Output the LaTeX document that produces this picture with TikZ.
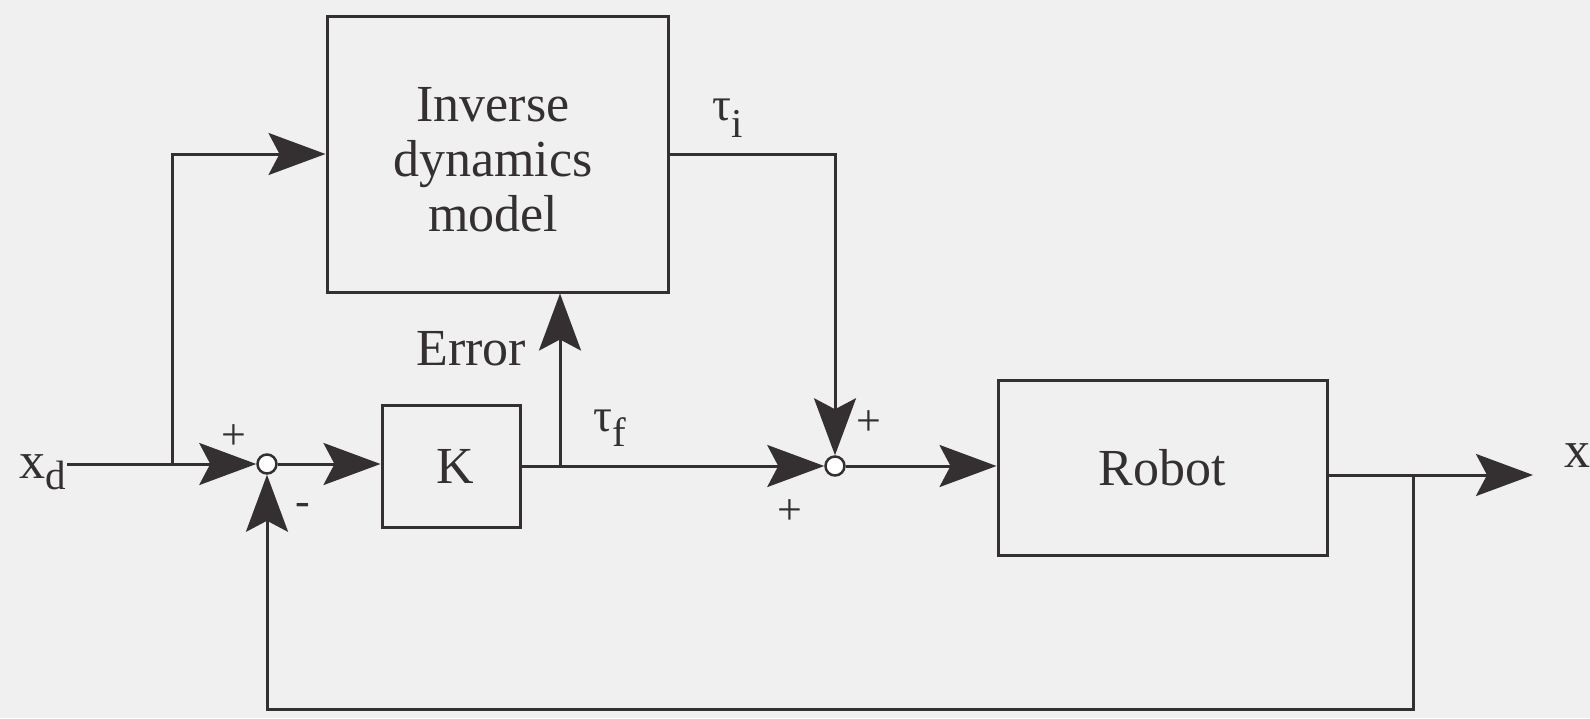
\documentclass[tikz,border=0pt]{standalone}
\usepackage{fontspec}
\setmainfont{Liberation Serif}
\usetikzlibrary{arrows.meta}
\definecolor{bgc}{RGB}{240,240,240}
\definecolor{ink}{RGB}{52,48,50}
\newcommand{\subtext}[3]{#1\raisebox{#3}{\fontsize{41}{41}\selectfont #2}}
\tikzset{
  arr/.style={-{Stealth[length=57pt,width=42pt,inset=11pt]}},
  blockbox/.style={draw=ink,line width=3pt,inner sep=0pt,align=center,font=\fontsize{52}{55}\selectfont},
  sumnode/.style={circle,draw=ink,fill=white,line width=2.5pt,minimum size=19pt,inner sep=0pt},
  lbl/.style={inner sep=0pt,text=ink,font=\fontsize{52}{55}\selectfont},
  tau/.style={inner sep=0pt,text=ink,font=\fontsize{47}{47}\selectfont},
  sgn/.style={inner sep=0pt,text=ink,font=\fontsize{44}{44}\selectfont},
}
\begin{document}
\begin{tikzpicture}[x=1pt,y=-1pt,line width=3pt,draw=ink,color=ink]
\fill[bgc] (0,0) rectangle (1590,718);
\useasboundingbox (0,0) rectangle (1590,718);
% blocks
\node[blockbox,minimum width=341pt,minimum height=276pt] (inv) at (497.5,154) {};
\node[lbl,align=center] (invt) at (493,160) {Inverse\\dynamics\\model};
\node[blockbox,minimum width=138pt,minimum height=122pt] (K) at (451,466) {\hspace*{8pt}K};
\node[blockbox,minimum width=329pt,minimum height=175pt] (rob) at (1162.5,467.5) {Robot};
% summing junctions
\node[sumnode] (L) at (267,464) {};
\node[sumnode] (R) at (835,466) {};
% labels
\node[lbl,anchor=base west] (xd) at (18,478) {\subtext{x}{d}{-11pt}};
\node[lbl,anchor=base west] (xo) at (1563,467) {x};
\node[tau,anchor=base west] (ti) at (711,120) {\subtext{τ}{i}{-17pt}};
\node[tau,anchor=base west] (tf) at (592,431) {\subtext{τ}{f}{-15pt}};
\node[lbl,anchor=base west] (err) at (415,365) {Error};
\node[sgn] (p1) at (234,437) {+};
\node[sgn] (m1) at (303,509) {-};
\node[sgn] (p2) at (869,423) {+};
\node[sgn] (p3) at (790,512) {+};
% coordinates
\coordinate (xs) at (67,464);
\coordinate (br) at (172,464);
\coordinate (eb) at (560,467);
\coordinate (out) at (1533,475);
\coordinate (fb) at (1413,475);
\coordinate (fbb) at (267,709);
% connectors
\draw[arr] (xs) -- (L);
\draw[arr] (br) |- (inv.west);
\draw[arr] (L) -- (L -| K.west);
\draw[arr] (K.east |- R) -- (R);
\draw[arr] (eb) -- (eb |- inv.south);
\draw[arr] (inv.east) -| (R);
\draw[arr] (R) -- (R -| rob.west);
\draw[arr] (rob.east |- out) -- (out);
\draw[arr] (fb) |- (fbb) -- (L);
\end{tikzpicture}
\end{document}
